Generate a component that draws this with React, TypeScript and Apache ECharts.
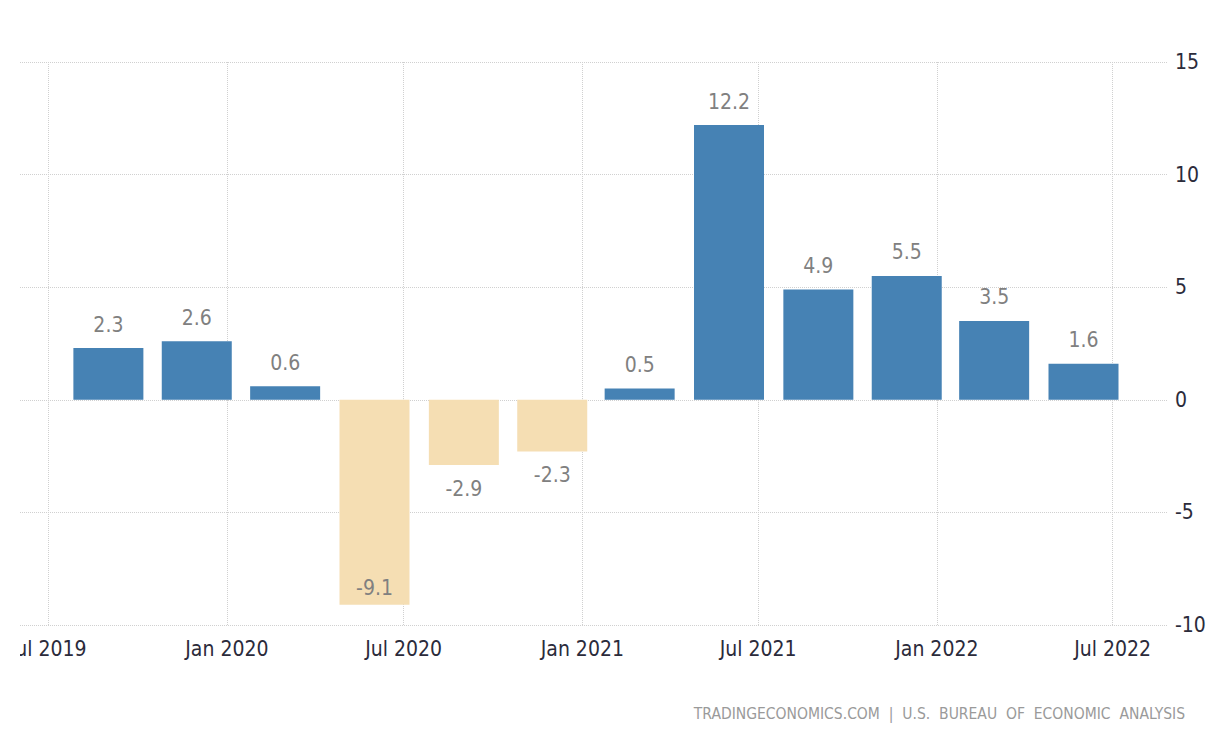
import React, { useEffect, useRef } from "react";
import * as echarts from "echarts";

const barDates = [
  "2019-09-01", "2019-12-01", "2020-03-01", "2020-06-01",
  "2020-09-01", "2020-12-01", "2021-03-01", "2021-06-01",
  "2021-09-01", "2021-12-01", "2022-03-01", "2022-06-01",
];
const growthValues = [2.3, 2.6, 0.6, -9.1, -2.9, -2.3, 0.5, 12.2, 4.9, 5.5, 3.5, 1.6];
const xTickDates = ["2019-07-01", "2020-01-01", "2020-07-01", "2021-01-01", "2021-07-01", "2022-01-01", "2022-07-01"];
const xRange = ["2019-06-02", "2022-08-27"];
const yMin = -10;
const yMax = 15;
const yStep = 5;
const monthNames = ["Jan", "Feb", "Mar", "Apr", "May", "Jun", "Jul", "Aug", "Sep", "Oct", "Nov", "Dec"];
const sourceText = "TRADINGECONOMICS.COM  |  U.S.  BUREAU  OF  ECONOMIC  ANALYSIS";

const toTime = (s: string) => {
  const [y, m, d] = s.split("-").map(Number);
  return new Date(y, m - 1, d).getTime();
};

const FONT = "'DejaVu Sans Condensed', 'Liberation Sans Narrow', sans-serif";

export default function App() {
  const ref = useRef<HTMLDivElement>(null);
  useEffect(() => {
    if (!ref.current) return;
    const chart = echarts.init(ref.current, null, { renderer: "svg" });
    const tickTimes = xTickDates.map(toTime);
    const option = {
      animation: false,
      backgroundColor: "#ffffff",
      grid: { left: 0, right: 63, top: 62, bottom: 115, containLabel: false, outerBoundsMode: "none" },
      xAxis: {
        type: "value",
        min: toTime(xRange[0]),
        max: toTime(xRange[1]),
        axisLine: { show: false },
        axisTick: {
          show: true,
          length: 7,
          customValues: tickTimes,
          lineStyle: { color: "#d0d0d0", type: "dotted", width: 1 },
        },
        axisLabel: {
          customValues: tickTimes,
          color: "#2b2b3b",
          fontFamily: FONT,
          fontSize: 21,
          margin: 13,
          formatter: (v: number) => {
            const d = new Date(v);
            return `${monthNames[d.getMonth()]} ${d.getFullYear()}`;
          },
        },
        splitLine: {
          show: true,
          lineStyle: { color: "#d0d0d0", type: "dotted", width: 1 },
        },
      },
      yAxis: {
        type: "value",
        position: "right",
        min: yMin,
        max: yMax,
        interval: yStep,
        axisLine: { show: false },
        axisTick: { show: false },
        axisLabel: {
          color: "#2b2b3b",
          fontFamily: FONT,
          fontSize: 21,
          margin: 7,
        },
        splitLine: {
          show: true,
          lineStyle: { color: "#d0d0d0", type: "dotted", width: 1 },
        },
      },
      series: [
        {
          type: "bar",
          barWidth: 70,
          data: barDates.map((d, i) => {
            const v = growthValues[i];
            return {
              value: [toTime(d), v],
              itemStyle: { color: v >= 0 ? "#4682b4" : "#f5deb3" },
              label: {
                position: v >= 0 ? "top" : v < -5 ? "insideBottom" : "bottom",
                distance: v < -5 ? 6 : 13,
              },
            };
          }),
          label: {
            show: true,
            color: "#808080",
            fontFamily: FONT,
            fontSize: 21,
            formatter: (p: any) => p.value[1].toFixed(1),
          },
        },
      ],
      graphic: [
        {
          type: "text",
          right: 46,
          top: 706,
          style: {
            text: sourceText,
            fill: "#9a9a9a",
            font: `15.5px ${FONT}`,
          },
        },
      ],
    };
    chart.setOption(option as any);
    return () => chart.dispose();
  }, []);
  return (
    <div
      ref={ref}
      style={{ position: "absolute", left: 20, top: 0, width: 1211, height: 740, overflow: "hidden" }}
    />
  );
}
